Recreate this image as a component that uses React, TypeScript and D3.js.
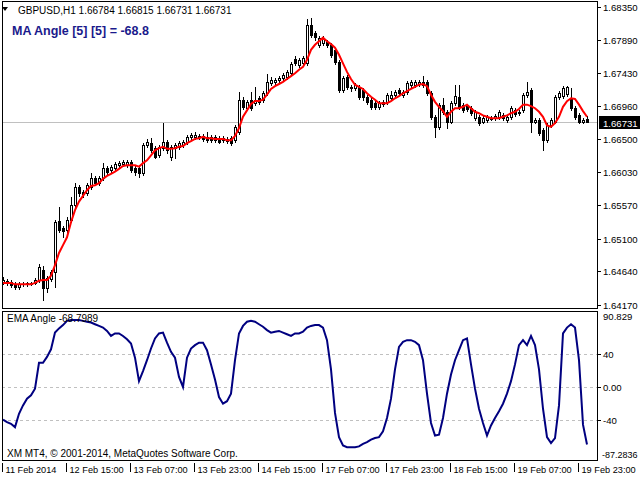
import * as d3 from "d3";

// GBPUSD H1, 11 Feb 2014 23:00 .. 20 Feb 2014 02:00
const opens = [
  1.6449, 1.6451, 1.6449, 1.6446, 1.6442, 1.6446, 1.6446, 1.6448, 1.6448, 1.6452,
  1.6466, 1.6441, 1.6454, 1.6463, 1.6535, 1.6525, 1.6522, 1.6536, 1.6557, 1.6583,
  1.6576, 1.6574, 1.6583, 1.6595, 1.6588, 1.6595, 1.6609, 1.6606, 1.6609, 1.6613,
  1.6615, 1.6613, 1.6618, 1.6609, 1.6609, 1.6602, 1.6641, 1.6644, 1.6637, 1.6627,
  1.6637, 1.6646, 1.6625, 1.6637, 1.6639, 1.6641, 1.6646, 1.6653, 1.6653, 1.6653,
  1.6654, 1.6653, 1.6653, 1.6648, 1.6651, 1.6648, 1.6650, 1.6651, 1.6648, 1.6660,
  1.6705, 1.6693, 1.6705, 1.6700, 1.6707, 1.6705, 1.6714, 1.6728, 1.6730, 1.6733,
  1.6735, 1.6737, 1.6742, 1.6762, 1.6754, 1.6756, 1.6756, 1.6810, 1.6799, 1.6782,
  1.6785, 1.6786, 1.6782, 1.6775, 1.6758, 1.6719, 1.6737, 1.6723, 1.6721, 1.6723,
  1.6719, 1.6709, 1.6705, 1.6700, 1.6695, 1.6702, 1.6702, 1.6707, 1.6712, 1.6719,
  1.6712, 1.6716, 1.6726, 1.6726, 1.6727, 1.6730, 1.6730, 1.6714, 1.6681, 1.6667,
  1.6698, 1.6688, 1.6674, 1.6700, 1.6709, 1.6698, 1.6696, 1.6693, 1.6679, 1.6681,
  1.6674, 1.6677, 1.6679, 1.6679, 1.6681, 1.6683, 1.6677, 1.6681, 1.6690, 1.6686,
  1.6690, 1.6712, 1.6719, 1.6674, 1.6677, 1.6662, 1.6648, 1.6669, 1.6674, 1.6709,
  1.6710, 1.6713, 1.6707, 1.6693, 1.6683, 1.6674, 1.66784,
];
const highs = [
  1.6456, 1.6454, 1.6452, 1.6449, 1.6449, 1.6449, 1.6449, 1.6449, 1.6455, 1.6475,
  1.6472, 1.6458, 1.6466, 1.6536, 1.6555, 1.6528, 1.6541, 1.6568, 1.6588, 1.6585,
  1.6578, 1.6588, 1.6602, 1.6598, 1.6598, 1.6616, 1.6612, 1.6613, 1.6618, 1.6619,
  1.6620, 1.6620, 1.6620, 1.6612, 1.6613, 1.6644, 1.6650, 1.6651, 1.6640, 1.6641,
  1.6672, 1.6648, 1.6641, 1.6644, 1.6647, 1.6648, 1.6655, 1.6658, 1.6660, 1.6657,
  1.6657, 1.6660, 1.6655, 1.6655, 1.6654, 1.6654, 1.6653, 1.6654, 1.6669, 1.6716,
  1.6709, 1.6705, 1.6716, 1.6723, 1.6710, 1.6717, 1.6741, 1.6737, 1.6735, 1.6738,
  1.6742, 1.6747, 1.6758, 1.6766, 1.6763, 1.6766, 1.6818, 1.6820, 1.6801, 1.6794,
  1.6794, 1.6789, 1.6785, 1.6778, 1.6761, 1.6738, 1.6740, 1.6726, 1.6728, 1.6726,
  1.6721, 1.6712, 1.6707, 1.6703, 1.6703, 1.6705, 1.6714, 1.6717, 1.6719, 1.6721,
  1.6719, 1.6731, 1.6733, 1.6733, 1.6733, 1.6738, 1.6733, 1.6717, 1.6683, 1.6700,
  1.6707, 1.6690, 1.6703, 1.6726, 1.6726, 1.6700, 1.6699, 1.6696, 1.6690, 1.6683,
  1.6682, 1.6683, 1.6682, 1.6685, 1.6690, 1.6686, 1.6683, 1.6696, 1.6693, 1.6690,
  1.6714, 1.6730, 1.6721, 1.6679, 1.6679, 1.6665, 1.6672, 1.6679, 1.6712, 1.6717,
  1.6724, 1.6724, 1.6721, 1.6696, 1.6686, 1.6679, 1.66815,
];
const lows = [
  1.6446, 1.6445, 1.6442, 1.6440, 1.6440, 1.6444, 1.6444, 1.6445, 1.6446, 1.6449,
  1.6424, 1.6435, 1.6451, 1.6442, 1.6519, 1.6512, 1.6519, 1.6533, 1.6555, 1.6570,
  1.6568, 1.6571, 1.6580, 1.6585, 1.6585, 1.6592, 1.6601, 1.6604, 1.6606, 1.6611,
  1.6612, 1.6611, 1.6604, 1.6599, 1.6597, 1.6599, 1.6639, 1.6632, 1.6623, 1.6625,
  1.6634, 1.6630, 1.6620, 1.6623, 1.6636, 1.6639, 1.6643, 1.6650, 1.6650, 1.6650,
  1.6647, 1.6646, 1.6646, 1.6646, 1.6644, 1.6646, 1.6644, 1.6641, 1.6646, 1.6657,
  1.6692, 1.6690, 1.6690, 1.6698, 1.6699, 1.6702, 1.6712, 1.6726, 1.6727, 1.6730,
  1.6733, 1.6734, 1.6740, 1.6754, 1.6751, 1.6754, 1.6754, 1.6793, 1.6789, 1.6779,
  1.6782, 1.6779, 1.6765, 1.6755, 1.6716, 1.6716, 1.6720, 1.6717, 1.6719, 1.6706,
  1.6705, 1.6699, 1.6692, 1.6692, 1.6692, 1.6696, 1.6699, 1.6705, 1.6709, 1.6712,
  1.6709, 1.6713, 1.6723, 1.6723, 1.6724, 1.6723, 1.6712, 1.6678, 1.6653, 1.6664,
  1.6685, 1.6665, 1.6672, 1.6698, 1.6692, 1.6688, 1.6689, 1.6684, 1.6677, 1.6669,
  1.6672, 1.6674, 1.6676, 1.6677, 1.6678, 1.6677, 1.6674, 1.6678, 1.6682, 1.6683,
  1.6688, 1.6709, 1.6660, 1.6672, 1.6655, 1.6634, 1.6646, 1.6667, 1.6672, 1.6706,
  1.6707, 1.6710, 1.6690, 1.6678, 1.6672, 1.6672, 1.66731,
];
const closes = [
  1.6452, 1.6449, 1.6445, 1.6442, 1.6446, 1.6446, 1.6448, 1.6446, 1.6452, 1.6470,
  1.6441, 1.6455, 1.6463, 1.6533, 1.6522, 1.6521, 1.6536, 1.6557, 1.6583, 1.6574,
  1.6573, 1.6585, 1.6595, 1.6588, 1.6595, 1.6609, 1.6604, 1.6611, 1.6615, 1.6616,
  1.6618, 1.6618, 1.6606, 1.6604, 1.6602, 1.6641, 1.6646, 1.6634, 1.6625, 1.6639,
  1.6646, 1.6634, 1.6639, 1.6641, 1.6644, 1.6646, 1.6653, 1.6655, 1.6655, 1.6654,
  1.6650, 1.6648, 1.6648, 1.6653, 1.6646, 1.6651, 1.6647, 1.6644, 1.6667, 1.6705,
  1.6695, 1.6702, 1.6693, 1.6705, 1.6702, 1.6714, 1.6730, 1.6733, 1.6733, 1.6735,
  1.6740, 1.6744, 1.6755, 1.6756, 1.6761, 1.6763, 1.6810, 1.6796, 1.6793, 1.6792,
  1.6792, 1.6782, 1.6768, 1.6758, 1.6719, 1.6735, 1.6723, 1.6721, 1.6726, 1.6709,
  1.6709, 1.6702, 1.6695, 1.6695, 1.6700, 1.6699, 1.6712, 1.6712, 1.6716, 1.6714,
  1.6716, 1.6728, 1.6730, 1.6730, 1.6730, 1.6726, 1.6714, 1.6681, 1.6667, 1.6698,
  1.6688, 1.6674, 1.6700, 1.6710, 1.6695, 1.6690, 1.6692, 1.6686, 1.6688, 1.6672,
  1.6679, 1.6681, 1.6678, 1.6682, 1.6688, 1.6679, 1.6681, 1.6693, 1.6685, 1.6688,
  1.6712, 1.6716, 1.6674, 1.6677, 1.6658, 1.6648, 1.6669, 1.6677, 1.6709, 1.6714,
  1.6721, 1.6723, 1.6693, 1.6681, 1.6674, 1.6677, 1.66731,
];
// red moving average
const maValues = [
  1.6448, 1.6448, 1.6448, 1.6446, 1.6446, 1.6446, 1.6446, 1.6446, 1.6448, 1.6451,
  1.6452, 1.6452, 1.6458, 1.6473, 1.6490, 1.6501, 1.6512, 1.6533, 1.6550, 1.6562,
  1.6570, 1.6578, 1.6584, 1.6585, 1.6588, 1.6594, 1.6598, 1.6601, 1.6604, 1.6608,
  1.6612, 1.6613, 1.6613, 1.6613, 1.6611, 1.6616, 1.6620, 1.6627, 1.6634, 1.6637,
  1.6639, 1.6636, 1.6636, 1.6637, 1.6639, 1.6640, 1.6644, 1.6647, 1.6650, 1.6651,
  1.6653, 1.6651, 1.6651, 1.6650, 1.6650, 1.6650, 1.6648, 1.6648, 1.6654, 1.6665,
  1.6681, 1.6690, 1.6699, 1.6703, 1.6703, 1.6705, 1.6712, 1.6720, 1.6724, 1.6727,
  1.6730, 1.6734, 1.6738, 1.6742, 1.6747, 1.6751, 1.6761, 1.6775, 1.6782, 1.6787,
  1.6792, 1.6787, 1.6783, 1.6778, 1.6768, 1.6756, 1.6744, 1.6734, 1.6726, 1.6723,
  1.6720, 1.6714, 1.6709, 1.6705, 1.6700, 1.6700, 1.6700, 1.6703, 1.6707, 1.6710,
  1.6714, 1.6717, 1.6720, 1.6723, 1.6726, 1.6727, 1.6724, 1.6712, 1.6702, 1.6695,
  1.6689, 1.6681, 1.6688, 1.6693, 1.6693, 1.6695, 1.6698, 1.6693, 1.6688, 1.6686,
  1.6683, 1.6681, 1.6679, 1.6679, 1.6679, 1.6681, 1.6683, 1.6686, 1.6688, 1.6692,
  1.6698, 1.6698, 1.6696, 1.6693, 1.6688, 1.6681, 1.6669, 1.6667, 1.6672, 1.6681,
  1.6695, 1.6703, 1.6707, 1.6706, 1.6698, 1.6689, 1.6681,
];
// EMA Angle sub-window
const angleValues = [
  -39, -42, -44, -48, -32, -22, -14, -10, -2, 29,
  29, 36, 45, 65, 70, 74, 79, 80, 80, 80,
  79, 78, 77, 75, 73, 71, 67, 61, 64, 64,
  61, 57, 52, 35, 7, 19, 32, 46, 58, 64,
  65, 53, 42, 35, 12, 0, 35, 46, 50, 53,
  53, 44, 27, 9, -12, -20, -17, -8, 32, 64,
  73, 78, 79, 78, 75, 72, 68, 65, 66, 67,
  65, 63, 61, 64, 64, 66, 71, 73, 74, 74,
  71, 56, 21, -31, -60, -70, -72, -72, -72, -71,
  -68, -66, -63, -61, -60, -53, -37, -14, 21, 48,
  54, 56, 56, 54, 50, 32, -8, -43, -58, -57,
  -37, -8, 15, 32, 44, 56, 58, 27, -2, -26,
  -43, -58, -46, -37, -29, -20, -8, 7, 27, 50,
  56, 50, 61, 50, 21, -26, -60, -67, -61, -22,
  64, 71, 75, 71, 32, -45, -68.8,
];

const priceTicks = [1.6835, 1.6789, 1.6743, 1.6696, 1.665, 1.6603, 1.6557, 1.651, 1.6464, 1.6417];
const angleTicks = [40, 0, -40];
const angleMax = 90.829;
const angleMin = -87.2836;
const timeTickBars = [0, 16, 32, 48, 64, 80, 96, 112, 128, 144];
const timeTickLabels = [
  "11 Feb 2014", "12 Feb 15:00", "13 Feb 07:00", "13 Feb 23:00", "14 Feb 15:00",
  "17 Feb 07:00", "17 Feb 23:00", "18 Feb 15:00", "19 Feb 07:00", "19 Feb 23:00",
];
const lastPrice = 1.66731;

const FONT = "'Liberation Sans', Arial, sans-serif";
const AXIS_FS = 9.6;

export default function App() {
  const n = closes.length;
  const axisX = 597;
  const main = { top: 1, bottom: 308 };
  const sub = { top: 311, bottom: 460 };

  const x = d3.scaleLinear().domain([0, n - 1]).range([3, 587]);
  const y = d3.scaleLinear().domain([1.6417, 1.6835]).range([305, 7]);
  const ya = d3.scaleLinear().domain([angleMin, angleMax]).range([sub.bottom, sub.top]);

  const maPath = d3.line<number>().x((_, i) => x(i)).y(d => y(d))(maValues) || "";
  const anglePath = d3.line<number>().x((_, i) => x(i)).y(d => ya(d))(angleValues) || "";

  const lastY = Math.round(y(lastPrice)) + 0.5;

  return (
    <svg width={640} height={480} style={{ position: "fixed", left: 0, top: 0, background: "#fff" }} fontFamily={FONT}>
      <rect width={640} height={480} fill="#fff" />

      {/* main window */}
      <line x1={2} x2={axisX} y1={lastY} y2={lastY} stroke="#c0c0c0" shapeRendering="crispEdges" />
      <g shapeRendering="crispEdges">
        {closes.map((c, i) => {
          const o = opens[i];
          const cx = Math.round(x(i));
          const top = Math.round(y(Math.max(o, c)));
          const bot = Math.round(y(Math.min(o, c)));
          const up = c >= o;
          return (
            <g key={i}>
              <line x1={cx + 0.5} x2={cx + 0.5} y1={Math.round(y(highs[i]))} y2={Math.round(y(lows[i])) + 1} stroke="#000" />
              <rect x={cx - 0.5} y={top + 0.5} width={2} height={Math.max(bot - top, 0)} fill={up ? "#fff" : "#000"} stroke="#000" />
            </g>
          );
        })}
      </g>
      <path d={maPath} fill="none" stroke="#ff0000" strokeWidth={2} />
      <rect x={2.5} y={main.top + 0.5} width={axisX - 2} height={main.bottom - main.top} fill="none" stroke="#000" shapeRendering="crispEdges" />

      <path d="M2,7 L8,7 L5,11 Z" fill="#000" />
      <text x={18} y={14} fontSize={10} fill="#000">GBPUSD,H1  1.66784 1.66815 1.66731 1.66731</text>
      <text x={12} y={35} fontSize={12.5} fontWeight="bold" fill="#1a1a8c">MA Angle [5] [5] = -68.8</text>

      {priceTicks.map((p, i) => (
        <g key={i}>
          <line x1={axisX} x2={axisX + 4} y1={Math.round(y(p)) + 0.5} y2={Math.round(y(p)) + 0.5} stroke="#000" shapeRendering="crispEdges" />
          <text x={603} y={y(p) + 4} fontSize={AXIS_FS} fill="#000">{p.toFixed(5)}</text>
        </g>
      ))}
      <rect x={599} y={lastY - 6.5} width={41} height={13} fill="#000" />
      <text x={603} y={lastY + 4} fontSize={AXIS_FS} fill="#fff">{lastPrice.toFixed(5)}</text>

      {/* sub window */}
      {angleTicks.map((v, i) => (
        <g key={i}>
          <line x1={2} x2={axisX} y1={Math.round(ya(v)) + 0.5} y2={Math.round(ya(v)) + 0.5} stroke="#c0c0c0" strokeDasharray="3,3" shapeRendering="crispEdges" />
          <line x1={axisX} x2={axisX + 4} y1={Math.round(ya(v)) + 0.5} y2={Math.round(ya(v)) + 0.5} stroke="#000" shapeRendering="crispEdges" />
          <text x={603} y={ya(v) + 4} fontSize={AXIS_FS} fill="#000">{v === 0 ? "0.00" : String(v)}</text>
        </g>
      ))}
      <path d={anglePath} fill="none" stroke="#000080" strokeWidth={2} />
      <rect x={2.5} y={sub.top + 0.5} width={axisX - 2} height={sub.bottom - sub.top} fill="none" stroke="#000" shapeRendering="crispEdges" />
      <text x={603} y={sub.top + 9} fontSize={AXIS_FS} fill="#000">{String(angleMax)}</text>
      <text x={602} y={sub.bottom - 2} fontSize={9} fill="#000">{String(angleMin)}</text>
      <text x={7} y={322} fontSize={10} fill="#000">EMA Angle -68.7989</text>
      <text x={7} y={457} fontSize={10} fill="#000">XM MT4, © 2001-2014, MetaQuotes Software Corp.</text>

      {/* time axis */}
      {timeTickBars.map((b, i) => {
        const tx = Math.round(x(b)) - 0.5;
        return (
          <g key={i}>
            <line x1={tx} x2={tx} y1={sub.bottom + 3} y2={sub.bottom + 12} stroke="#000" shapeRendering="crispEdges" />
            <text x={tx + 3} y={sub.bottom + 13} fontSize={9.2} fill="#000">{timeTickLabels[i]}</text>
          </g>
        );
      })}
    </svg>
  );
}
